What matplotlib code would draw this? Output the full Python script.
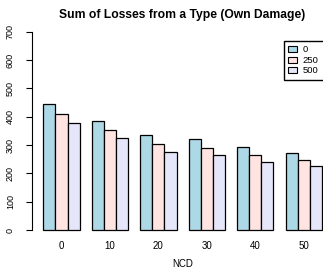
import matplotlib
matplotlib.use("Agg")
import matplotlib.pyplot as plt
from matplotlib.patches import Patch

# datos
ncd = ["0", "10", "20", "30", "40", "50"]
deductibles = ["0", "250", "500"]
loss_0 = [445, 386, 335, 321, 294, 273]
loss_250 = [410, 352, 303, 291, 265, 247]
loss_500 = [377, 324, 275, 264, 239, 225]
colors = ["lightblue", "mistyrose", "lavender"]

plt.rcParams["font.family"] = ["Liberation Sans", "DejaVu Sans"]

fig = plt.figure(figsize=(3.23, 2.68), dpi=100)
ax = fig.add_axes([0.0997, 0.112, 0.9313, 0.799])

series = [loss_0, loss_250, loss_500]
for j, (vals, col) in enumerate(zip(series, colors)):
    xs = [1.5 + 4 * i + j for i in range(len(ncd))]
    ax.bar(xs, vals, width=1, color=col, edgecolor="black", linewidth=0.9)

ax.set_xlim(0.08, 24.92)
ax.set_ylim(-28, 728)
ax.set_xticks([2.5 + 4 * i for i in range(len(ncd))])
ax.set_xticklabels(ncd)
ax.set_yticks(range(0, 701, 100))
ax.set_yticklabels([str(v) for v in range(0, 701, 100)], rotation=90, va="center")
ax.tick_params(axis="x", length=0, pad=2, labelsize=7)
ax.tick_params(axis="y", length=4.5, width=0.8, pad=8, labelsize=6.5)

for s in ["top", "right", "bottom"]:
    ax.spines[s].set_visible(False)
ax.spines["left"].set_bounds(0, 700)
ax.spines["left"].set_linewidth(0.8)

ax.set_xlabel("NCD", fontsize=7, labelpad=6)
ax.set_title("Sum of Losses from a Type (Own Damage)", fontsize=8.7,
             fontweight="bold", pad=4)

handles = [Patch(facecolor=c, edgecolor="black", linewidth=0.8) for c in colors]
fig.legend(handles, deductibles, loc="upper left",
           bbox_to_anchor=(279 / 323, 1 - 71 / 268, 56 / 323, 35 / 268),
           mode="expand", fontsize=6.8,
           frameon=True, fancybox=False, edgecolor="black", framealpha=1,
           handlelength=0.9, handleheight=0.6, handletextpad=0.6,
           labelspacing=0.15, borderpad=0.5)

fig.savefig("out.png", dpi=100)
